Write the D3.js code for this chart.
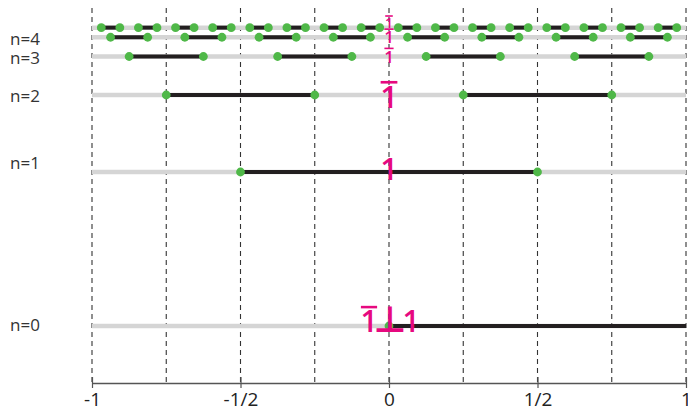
<!DOCTYPE html>
<html>
<head>
<meta charset="utf-8">
<script src="https://cdn.jsdelivr.net/npm/d3@7"></script>
<style>
  html, body { margin: 0; padding: 0; background: #fff; }
  svg { display: block; }
</style>
</head>
<body>
<svg id="chart" width="688" height="411"></svg>
<script>
// Levels of the construction, n = 0 .. 5
const levels = [0, 1, 2, 3, 4, 5];
const levelNames = ["n=0", "n=1", "n=2", "n=3", "n=4", ""];

// Highlighted intervals on each level
const seg0 = [[0, 1]];
const seg1 = [[-1/2, 1/2]];
const seg2 = [[-3/4, -1/4], [1/4, 3/4]];
const seg3 = [[-7/8, -5/8], [-3/8, -1/8], [1/8, 3/8], [5/8, 7/8]];
const seg4 = [[-15/16, -13/16], [-11/16, -9/16], [-7/16, -5/16], [-3/16, -1/16],
              [1/16, 3/16], [5/16, 7/16], [9/16, 11/16], [13/16, 15/16]];
const seg5 = [[-31/32, -29/32], [-27/32, -25/32], [-23/32, -21/32], [-19/32, -17/32],
              [-15/32, -13/32], [-11/32, -9/32], [-7/32, -5/32], [-3/32, -1/32],
              [1/32, 3/32], [5/32, 7/32], [9/32, 11/32], [13/32, 15/32],
              [17/32, 19/32], [21/32, 23/32], [25/32, 27/32], [29/32, 31/32]];
const segments = [seg0, seg1, seg2, seg3, seg4, seg5];

// Marked points on level 0 (only the left end of its interval)
const dots0 = [0];

// Symbols written at the origin on each level: [text, has overbar]
const symbols = [
  [["1", true], ["\u22A5", false], ["1", false]],
  [["1", false]],
  [["1", true]],
  [["1", true]],
  [["1", true]],
  [["1", true]]
];

// Axis
const gridValues = [-1, -3/4, -1/2, -1/4, 0, 1/4, 1/2, 3/4, 1];
const tickValues = [-1, -1/2, 0, 1/2, 1];
const tickLabels = ["-1", "-1/2", "0", "1/2", "1"];

// ---- layout ----
const axisY = 383;
const gridTop = 8;
const pink = "#e6097f";
const green = "#4fb848";
const font = "'Open Sans', 'Noto Sans', sans-serif";

const svg = d3.select("#chart");

const x = d3.scaleLinear().domain([-1, 1]).range([92, 686]);
// level n sits at depth 1 - 2^-n
const y = d3.scaleLinear().domain([0, 1]).range([326, 18]);
const rowY = n => y(1 - Math.pow(2, -n));

// dashed guides
svg.append("g").selectAll("line")
  .data(gridValues)
  .join("line")
  .attr("x1", d => x(d)).attr("x2", d => x(d))
  .attr("y1", gridTop).attr("y2", axisY)
  .attr("stroke", "#333")
  .attr("stroke-width", 1.1)
  .attr("stroke-dasharray", "5,4");

// base rails
svg.append("g").selectAll("line")
  .data(levels)
  .join("line")
  .attr("x1", x(-1)).attr("x2", x(1))
  .attr("y1", rowY).attr("y2", rowY)
  .attr("stroke", "#d5d5d5")
  .attr("stroke-width", 4.5);

// highlighted intervals
const segData = levels.flatMap(n => segments[n].map(s => ({ n, a: s[0], b: s[1] })));
svg.append("g").selectAll("line")
  .data(segData)
  .join("line")
  .attr("x1", d => x(d.a)).attr("x2", d => x(d.b))
  .attr("y1", d => rowY(d.n)).attr("y2", d => rowY(d.n))
  .attr("stroke", "#231f20")
  .attr("stroke-width", 4);

// endpoints
const dotData = levels.flatMap(n =>
  n === 0 ? dots0.map(v => ({ n, v }))
          : segments[n].flatMap(s => [{ n, v: s[0] }, { n, v: s[1] }]));
svg.append("g").selectAll("circle")
  .data(dotData)
  .join("circle")
  .attr("cx", d => x(d.v))
  .attr("cy", d => rowY(d.n))
  .attr("r", 4.4)
  .attr("fill", green);

// level names
const nameDy = [5, -3, 7, 7, 8, 0];
svg.append("g").selectAll("text")
  .data(levels.filter(n => levelNames[n]))
  .join("text")
  .attr("x", 10)
  .attr("y", n => rowY(n) + nameDy[n])
  .attr("font-family", font)
  .attr("font-size", 17)
  .attr("fill", "#333")
  .text(n => levelNames[n]);

// symbols at the origin
const symSize = [30, 31, 31, 17, 17, 14];
const symDy = [6, 8, 13, 6, 6, 0];
const symOffsets = [[-20, 1, 22], [0], [0], [0], [0], [0]];
const symG = svg.append("g");
levels.forEach(n => {
  const f = symSize[n];
  const base = rowY(n) + symDy[n];
  symbols[n].forEach((s, i) => {
    const cx = x(0) + symOffsets[n][i];
    const isPerp = s[0] === "\u22A5";
    symG.append("text")
      .attr("x", cx)
      .attr("y", base)
      .attr("text-anchor", "middle")
      .attr("font-family", isPerp ? "'DejaVu Sans', sans-serif" : font)
      .attr("font-weight", isPerp ? 700 : 600)
      .attr("font-size", isPerp ? f * 1.2 : f)
      .attr("fill", pink)
      .text(s[0]);
    if (s[1]) {
      symG.append("line")
        .attr("x1", cx - f * 0.27).attr("x2", cx + f * 0.27)
        .attr("y1", base - f * 0.83).attr("y2", base - f * 0.83)
        .attr("stroke", pink)
        .attr("stroke-width", Math.max(1.6, f * 0.085));
    }
  });
});

// horizontal axis
const axis = d3.axisBottom(x)
  .tickValues(tickValues)
  .tickFormat((d, i) => tickLabels[i])
  .tickSizeInner(5)
  .tickSizeOuter(0);
const gAxis = svg.append("g")
  .attr("transform", `translate(0,${axisY})`)
  .call(axis);
gAxis.select(".domain").attr("stroke", "#555").attr("stroke-width", 1.5);
gAxis.selectAll(".tick line").attr("y1", -6).attr("y2", 5).attr("stroke", "#555").attr("stroke-width", 1.2);
gAxis.selectAll(".tick text")
  .attr("y", 23).attr("dy", 0)
  .attr("font-family", font)
  .attr("font-size", 19)
  .attr("fill", "#222");
</script>
</body>
</html>
